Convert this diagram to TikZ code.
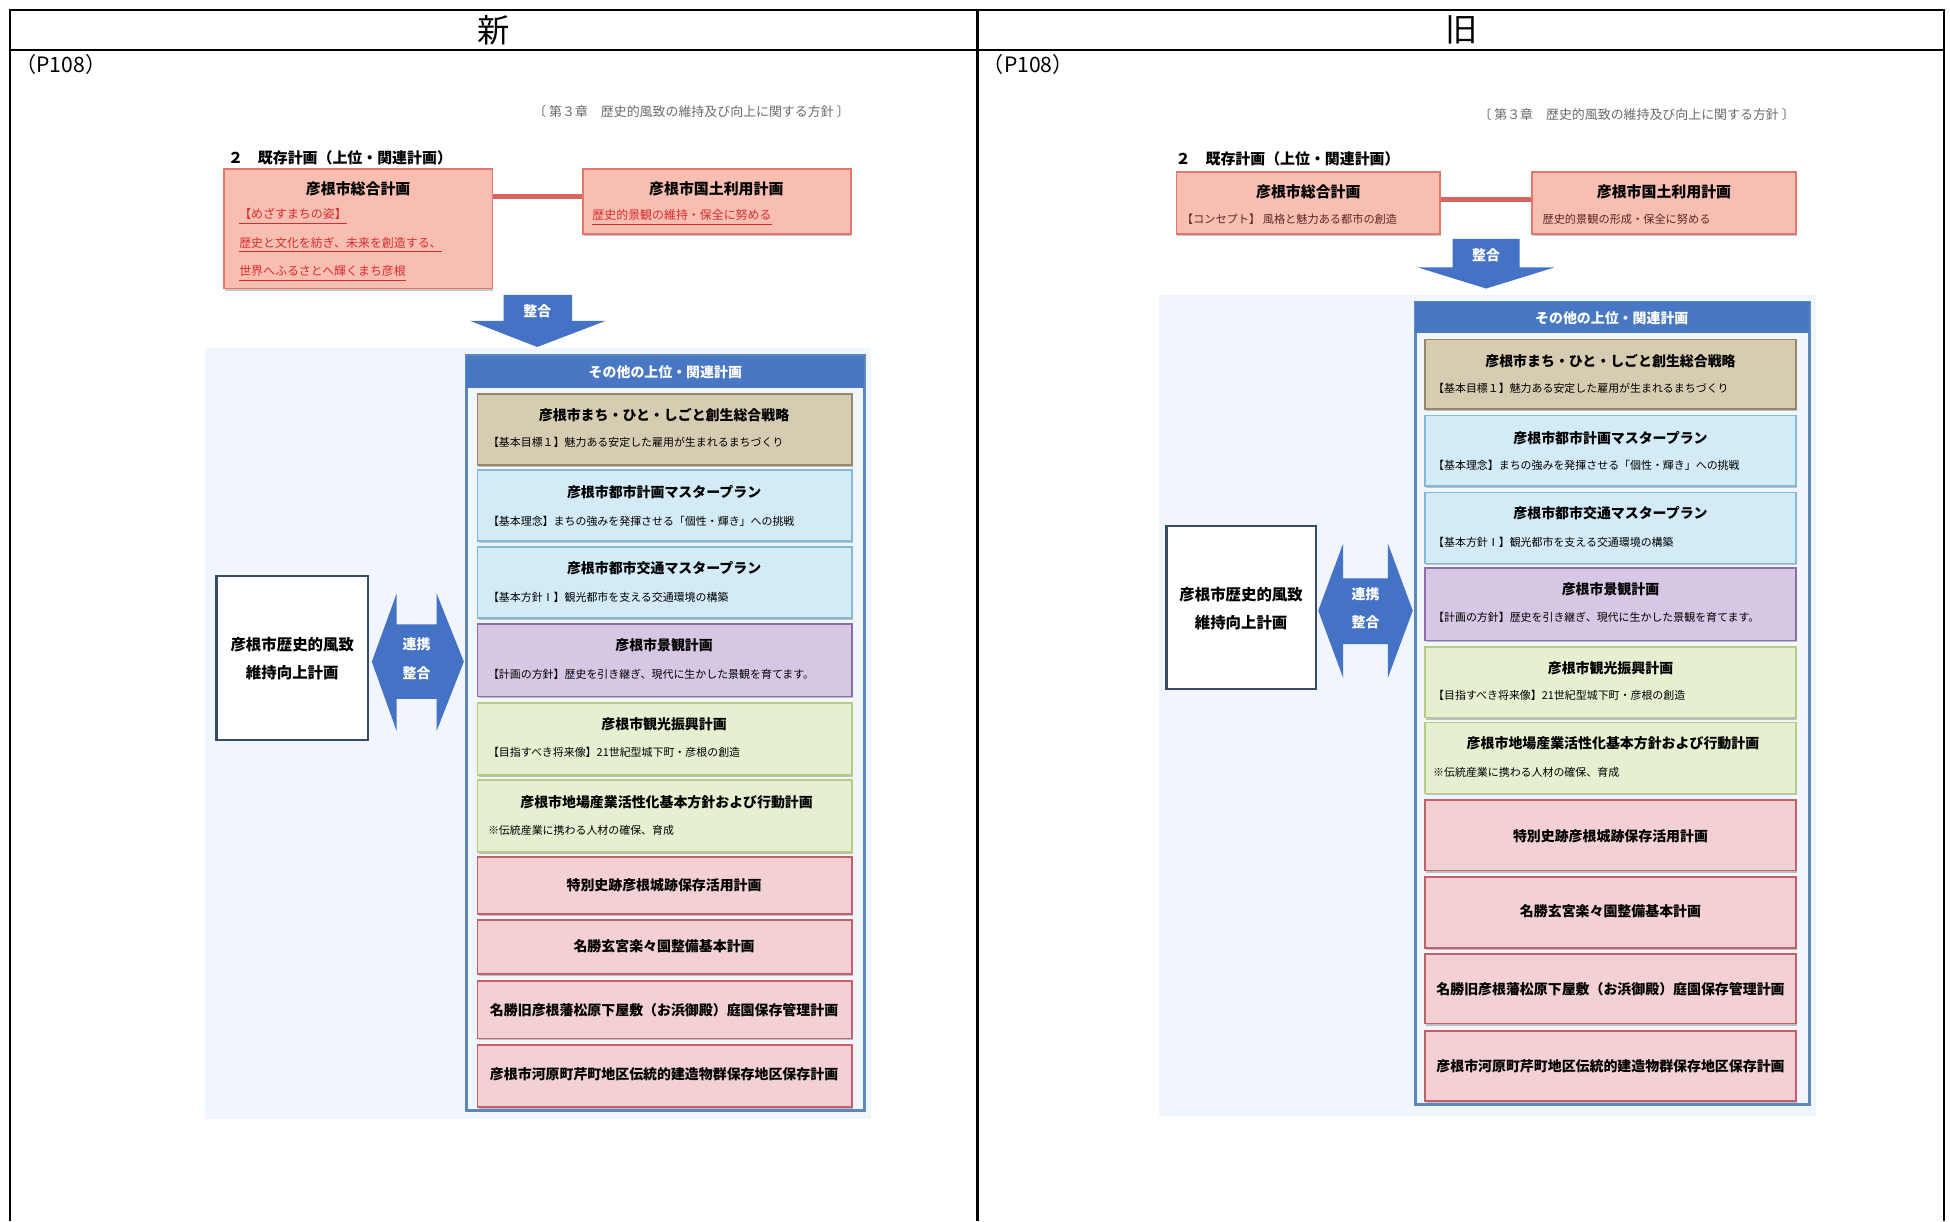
\documentclass[tikz,border=0pt]{standalone}
\usepackage{fontspec}
\setmainfont{Noto Sans CJK JP}
\usetikzlibrary{fit,shadows}
\definecolor{topfill}{RGB}{248,190,178}
\definecolor{topedge}{RGB}{225,120,110}
\definecolor{conred}{RGB}{215,100,95}
\definecolor{redtxt}{RGB}{215,45,45}
\definecolor{oldtxt}{RGB}{90,40,35}
\definecolor{arrowblue}{RGB}{68,114,196}
\definecolor{panelbg}{RGB}{241,245,252}
\definecolor{contedge}{RGB}{95,135,185}
\definecolor{headblue}{RGB}{72,120,195}
\definecolor{tanfill}{RGB}{214,204,178}
\definecolor{tanedge}{RGB}{150,135,105}
\definecolor{bluefill}{RGB}{210,235,247}
\definecolor{blueedge}{RGB}{130,185,215}
\definecolor{lavfill}{RGB}{214,200,228}
\definecolor{lavedge}{RGB}{140,110,170}
\definecolor{grnfill}{RGB}{230,240,208}
\definecolor{grnedge}{RGB}{180,205,130}
\definecolor{pinkfill}{RGB}{242,208,212}
\definecolor{pinkedge}{RGB}{195,95,105}
\definecolor{leftedge}{RGB}{55,75,105}
\definecolor{graytxt}{RGB}{105,105,105}
\tikzset{
  frame/.style={line width=1pt, black},
  bx/.style={inner sep=0pt, line width=0.7pt},
  shd/.style={drop shadow={shadow xshift=0.4pt, shadow yshift=-0.8pt, fill=black, opacity=0.22}},
  topbox/.style={bx, shd, draw=topedge, fill=topfill},
  tanbox/.style={bx, shd, draw=tanedge, fill=tanfill},
  bluebox/.style={bx, shd, draw=blueedge, fill=bluefill},
  lavbox/.style={bx, shd, draw=lavedge, fill=lavfill},
  grnbox/.style={bx, shd, draw=grnedge, fill=grnfill},
  pinkbox/.style={bx, shd, draw=pinkedge, fill=pinkfill},
  contbox/.style={bx, draw=contedge, fill=panelbg, line width=1pt},
  headbar/.style={bx, fill=headblue},
  leftbox/.style={bx, draw=leftedge, fill=white, line width=1pt},
  bigarrow/.style={fill=arrowblue},
  ttl/.style={inner sep=0pt, font=\fontsize{5.6}{6}\selectfont\bfseries},
  toptl/.style={inner sep=0pt, font=\fontsize{6}{7}\selectfont\bfseries},
  sub/.style={inner sep=0pt, anchor=west, font=\fontsize{4.4}{5}\selectfont},
  redsub/.style={inner sep=0pt, anchor=west, text=redtxt, font=\fontsize{4.8}{5}\selectfont},
  oldsub/.style={inner sep=0pt, anchor=west, text=oldtxt, font=\fontsize{4.5}{5}\selectfont},
  wtxt/.style={inner sep=0pt, text=white, font=\fontsize{5.6}{6}\selectfont\bfseries},
  lefttxt/.style={inner sep=0pt, font=\fontsize{6.2}{7}\selectfont\bfseries},
  chap/.style={inner sep=0pt, text=graytxt, font=\fontsize{5.2}{6}\selectfont},
  sect/.style={inner sep=0pt, anchor=west, font=\fontsize{6}{7}\selectfont\bfseries},
}
\begin{document}
\begin{tikzpicture}[x=0.5pt, y=-0.5pt]
\useasboundingbox (0,0) rectangle (1568,982);
% ---------- table frame ----------
\coordinate (tl) at (8,8);
\coordinate (tr) at (1563,8);
\coordinate (bl) at (8,982);
\coordinate (br) at (1563,982);
\coordinate (mt) at (786,8);
\coordinate (mb) at (786,982);
\coordinate (hl) at (8,40);
\coordinate (hr) at (1563,40);
\draw[frame] (bl) -- (tl) -- (tr) -- (br);
\draw[frame] (mt) -- (mb);
\draw[frame] (hl) -- (hr);
\node[inner sep=0pt, font=\fontsize{13}{14}\selectfont] (hnew) at (397,24) {新};
\node[inner sep=0pt, font=\fontsize{13}{14}\selectfont] (hold) at (1175,24) {旧};
\node[inner sep=0pt, anchor=west, font=\fontsize{8.5}{9}\selectfont] (pnew) at (12,52) {（P108）};
\node[inner sep=0pt, anchor=west, font=\fontsize{8.5}{9}\selectfont] (pold) at (790,52) {（P108）};

% ================= NEW (left) =================
\node[chap] (chapL) at (556,90) {〔 第３章　歴史的風致の維持及び向上に関する方針 〕};
\node[sect] (sectL) at (183,127) {２　既存計画（上位・関連計画）};
\node[topbox, fit={(180,136)(396,232)}] (A1) {};
\node[toptl] (A1t) at (288,152) {彦根市総合計画};
\node[redsub] (A1s1) at (192,174) {\underline{【めざすまちの姿】}};
\node[redsub] (A1s2) at (192,197) {\underline{歴史と文化を紡ぎ、未来を創造する、}};
\node[redsub] (A1s3) at (192,220) {\underline{世界へふるさとへ輝くまち彦根}};
\node[topbox, fit={(469,136)(684,188)}] (B1) {};
\node[toptl] (B1t) at (576,152) {彦根市国土利用計画};
\node[redsub] (B1s) at (476,175) {\underline{歴史的景観の維持・保全に努める}};
\draw[conred, line width=2pt] (B1.west |- B1t.south) -- (B1t.south -| A1.east);
% arrow
\fill[bigarrow] (405,237) -- (460,237) -- (460,258) -- (487,258) -- (432,279) -- (378,258) -- (405,258) -- cycle;
\node[wtxt] (arL) at (432,250) {整合};
% panel
\fill[panelbg] (165,280) rectangle (700,900);
\node[contbox, fit={(375,286)(695,893)}] (C1) {};
\node[headbar, fit={(375,286)(695,312)}] (H1) {};
\node[wtxt] (H1t) at (535,299) {その他の上位・関連計画};
\node[tanbox, fit={(384,317)(685,374)}] (L1) {};
\node[ttl] (L1t) at (534,334) {彦根市まち・ひと・しごと創生総合戦略};
\node[sub] (L1s) at (392,356) {【基本目標１】魅力ある安定した雇用が生まれるまちづくり};
\node[bluebox, fit={(384,378)(685,435)}] (L2) {};
\node[ttl] (L2t) at (534,396) {彦根市都市計画マスタープラン};
\node[sub] (L2s) at (392,419) {【基本理念】まちの強みを発揮させる「個性・輝き」への挑戦};
\node[bluebox, fit={(384,440)(685,497)}] (L3) {};
\node[ttl] (L3t) at (534,457) {彦根市都市交通マスタープラン};
\node[sub] (L3s) at (392,480) {【基本方針Ⅰ】観光都市を支える交通環境の構築};
\node[lavbox, fit={(384,502)(685,560)}] (L4) {};
\node[ttl] (L4t) at (534,519) {彦根市景観計画};
\node[sub] (L4s) at (392,542) {【計画の方針】歴史を引き継ぎ、現代に生かした景観を育てます。};
\node[grnbox, fit={(384,565)(685,623)}] (L5) {};
\node[ttl] (L5t) at (534,582) {彦根市観光振興計画};
\node[sub] (L5s) at (392,605) {【目指すべき将来像】21世紀型城下町・彦根の創造};
\node[grnbox, fit={(384,627)(685,685)}] (L6) {};
\node[ttl] (L6t) at (536,645) {彦根市地場産業活性化基本方針および行動計画};
\node[sub] (L6s) at (392,668) {※伝統産業に携わる人材の確保、育成};
\node[pinkbox, fit={(384,689)(685,735)}] (L7) {};
\node[ttl] (L7t) at (534,712) {特別史跡彦根城跡保存活用計画};
\node[pinkbox, fit={(384,740)(685,783)}] (L8) {};
\node[ttl] (L8t) at (534,761) {名勝玄宮楽々園整備基本計画};
\node[pinkbox, fit={(384,789)(685,835)}] (L9) {};
\node[ttl] (L9t) at (534,812) {名勝旧彦根藩松原下屋敷（お浜御殿）庭園保存管理計画};
\node[pinkbox, fit={(384,840)(685,890)}] (L10) {};
\node[ttl] (L10t) at (534,864) {彦根市河原町芹町地区伝統的建造物群保存地区保存計画};
% left box and double arrow
\node[leftbox, fit={(174,463)(296,595)}] (LB1) {};
\node[lefttxt] (LB1a) at (235,518) {彦根市歴史的風致};
\node[lefttxt] (LB1b) at (235,541) {維持向上計画};
\fill[bigarrow] (299,532) -- (319,477) -- (319,502) -- (351,502) -- (351,477) -- (373,532) -- (351,588) -- (351,562) -- (319,562) -- (319,588) -- cycle;
\node[wtxt] (DA1a) at (335,518) {連携};
\node[wtxt] (DA1b) at (335,541) {整合};

% ================= OLD (right) =================
\node[chap] (chapR) at (1316,92) {〔 第３章　歴史的風致の維持及び向上に関する方針 〕};
\node[sect] (sectR) at (945,128) {２　既存計画（上位・関連計画）};
\node[topbox, fit={(946,138)(1158,188)}] (A2) {};
\node[toptl] (A2t) at (1052,154) {彦根市総合計画};
\node[oldsub] (A2s) at (950,176) {【コンセプト】 風格と魅力ある都市の創造};
\node[topbox, fit={(1232,138)(1444,188)}] (B2) {};
\node[toptl] (B2t) at (1338,154) {彦根市国土利用計画};
\node[oldsub] (B2s) at (1240,176) {歴史的景観の形成・保全に努める};
\draw[conred, line width=2pt] (B2.west |- B2t.south) -- (B2t.south -| A2.east);
\fill[bigarrow] (1168,192) -- (1222,192) -- (1222,215) -- (1250,215) -- (1195,232) -- (1140,215) -- (1168,215) -- cycle;
\node[wtxt] (arR) at (1195,205) {整合};
\fill[panelbg] (932,237) rectangle (1460,897);
\node[contbox, fit={(1138,243)(1455,888)}] (C2) {};
\node[headbar, fit={(1138,243)(1455,268)}] (H2) {};
\node[wtxt] (H2t) at (1296,256) {その他の上位・関連計画};
\node[tanbox, fit={(1146,273)(1444,329)}] (R1) {};
\node[ttl] (R1t) at (1295,290) {彦根市まち・ひと・しごと創生総合戦略};
\node[sub] (R1s) at (1152,312) {【基本目標１】魅力ある安定した雇用が生まれるまちづくり};
\node[bluebox, fit={(1146,334)(1444,391)}] (R2) {};
\node[ttl] (R2t) at (1295,352) {彦根市都市計画マスタープラン};
\node[sub] (R2s) at (1152,374) {【基本理念】まちの強みを発揮させる「個性・輝き」への挑戦};
\node[bluebox, fit={(1146,396)(1444,453)}] (R3) {};
\node[ttl] (R3t) at (1295,413) {彦根市都市交通マスタープラン};
\node[sub] (R3s) at (1152,436) {【基本方針Ⅰ】観光都市を支える交通環境の構築};
\node[lavbox, fit={(1146,457)(1444,515)}] (R4) {};
\node[ttl] (R4t) at (1295,474) {彦根市景観計画};
\node[sub] (R4s) at (1152,496) {【計画の方針】歴史を引き継ぎ、現代に生かした景観を育てます。};
\node[grnbox, fit={(1146,520)(1444,577)}] (R5) {};
\node[ttl] (R5t) at (1295,537) {彦根市観光振興計画};
\node[sub] (R5s) at (1152,559) {【目指すべき将来像】21世紀型城下町・彦根の創造};
\node[grnbox, fit={(1146,581)(1444,638)}] (R6) {};
\node[ttl] (R6t) at (1297,598) {彦根市地場産業活性化基本方針および行動計画};
\node[sub] (R6s) at (1152,621) {※伝統産業に携わる人材の確保、育成};
\node[pinkbox, fit={(1146,643)(1444,700)}] (R7) {};
\node[ttl] (R7t) at (1295,672) {特別史跡彦根城跡保存活用計画};
\node[pinkbox, fit={(1146,705)(1444,762)}] (R8) {};
\node[ttl] (R8t) at (1295,733) {名勝玄宮楽々園整備基本計画};
\node[pinkbox, fit={(1146,767)(1444,823)}] (R9) {};
\node[ttl] (R9t) at (1295,795) {名勝旧彦根藩松原下屋敷（お浜御殿）庭園保存管理計画};
\node[pinkbox, fit={(1146,829)(1444,885)}] (R10) {};
\node[ttl] (R10t) at (1295,857) {彦根市河原町芹町地区伝統的建造物群保存地区保存計画};
\node[leftbox, fit={(938,423)(1058,554)}] (LB2) {};
\node[lefttxt] (LB2a) at (998,478) {彦根市歴史的風致};
\node[lefttxt] (LB2b) at (998,501) {維持向上計画};
\fill[bigarrow] (1060,491) -- (1080,437) -- (1080,465) -- (1116,465) -- (1116,437) -- (1136,491) -- (1116,545) -- (1116,518) -- (1080,518) -- (1080,545) -- cycle;
\node[wtxt] (DA2a) at (1098,478) {連携};
\node[wtxt] (DA2b) at (1098,500) {整合};
\end{tikzpicture}
\end{document}
